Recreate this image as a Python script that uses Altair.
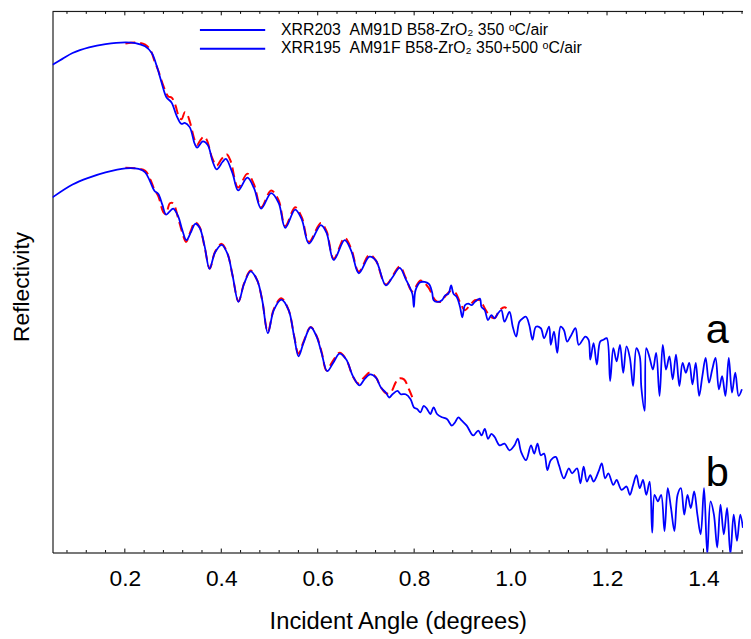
import altair as alt
import pandas as pd

# ---- measured curve a (XRR203) ----
a_x = [0.050, 0.0705, 0.0916, 0.1259, 0.160, 0.201, 0.2217, 0.242, 0.2558, 0.266, 0.2763, 0.2865,
       0.2968, 0.307, 0.3173, 0.3243, 0.3345, 0.3448, 0.350, 0.3618, 0.372, 0.3823, 0.3905, 0.4028,
       0.4096, 0.4234, 0.435, 0.4541, 0.4679, 0.4828, 0.5033, 0.5191, 0.5327, 0.5532, 0.5669, 0.5819,
       0.6065, 0.6182, 0.6332, 0.6558, 0.6695, 0.6853, 0.7071, 0.7208, 0.7413, 0.7551, 0.770, 0.7823,
       0.7961, 0.7994, 0.8028, 0.8131, 0.8301, 0.8371, 0.8404, 0.8474, 0.8576, 0.8644, 0.8712, 0.8767,
       0.8814, 0.8884, 0.8951, 0.8999, 0.9054, 0.9122, 0.9192, 0.9259, 0.9362, 0.9397, 0.9464, 0.9532,
       0.9602, 0.9669, 0.9737, 0.9807, 0.9874, 0.9977, 1.0045, 1.0115, 1.0182, 1.025, 1.032, 1.0387,
       1.0455, 1.0525, 1.0627, 1.0695, 1.0798, 1.0833, 1.090, 1.0968, 1.1038, 1.1105, 1.1173, 1.1243,
       1.1346, 1.1413, 1.155, 1.1618, 1.1653, 1.1721, 1.1789, 1.1859, 1.1926, 1.1994, 1.2064, 1.2131,
       1.2199, 1.2269, 1.2336, 1.2404, 1.2474, 1.2541, 1.2609, 1.2679, 1.2712, 1.2781, 1.2814, 1.2884,
       1.2951, 1.3019, 1.3089, 1.3156, 1.3224, 1.3294, 1.3362, 1.343, 1.350, 1.3567, 1.3635, 1.3705,
       1.3772, 1.384, 1.391, 1.3977, 1.4045, 1.4115, 1.4182, 1.425, 1.432, 1.4387, 1.4455, 1.4525,
       1.4592, 1.466, 1.473, 1.4797]
a_y = [4.93, 4.99, 5.05, 5.107, 5.14, 5.157, 5.15, 5.117, 5.05, 4.92, 4.75, 4.60,
       4.55, 4.42, 4.333, 4.343, 4.30, 4.133, 4.093, 4.157, 4.12, 3.95, 3.873, 3.95,
       3.98, 3.833, 3.66, 3.79, 3.683, 3.477, 3.633, 3.533, 3.283, 3.467, 3.367, 3.123,
       3.31, 3.233, 2.957, 3.157, 3.05, 2.823, 2.99, 2.95, 2.70, 2.783, 2.877, 2.767,
       2.617, 2.483, 2.65, 2.733, 2.717, 2.633, 2.55, 2.533, 2.55, 2.60, 2.617, 2.70,
       2.617, 2.583, 2.483, 2.377, 2.50, 2.517, 2.50, 2.533, 2.567, 2.483, 2.45, 2.35,
       2.40, 2.367, 2.417, 2.45, 2.333, 2.433, 2.283, 2.183, 2.333, 2.367, 2.383, 2.30,
       2.15, 2.283, 2.267, 2.167, 2.283, 2.10, 2.233, 2.017, 2.283, 2.25, 2.133, 2.183,
       2.267, 2.10, 2.183, 2.15, 1.95, 2.117, 1.90, 2.133, 2.15, 2.167, 1.733, 2.067,
       1.933, 2.10, 1.817, 2.083, 1.967, 1.683, 2.067, 1.983, 1.667, 1.433, 2.067, 1.967,
       1.85, 2.017, 1.583, 2.10, 1.85, 1.983, 1.75, 2.00, 1.683, 1.917, 1.817, 1.917,
       1.70, 1.917, 1.583, 1.783, 1.967, 1.717, 1.85, 1.967, 1.65, 1.783, 1.583, 1.967,
       1.617, 1.817, 1.583, 1.65]

# ---- fit to curve a ----
a_fit_x = [0.2012, 0.2217, 0.2422, 0.2531, 0.2613, 0.2695, 0.2798, 0.2901, 0.2968, 0.3044, 0.3126,
           0.3177, 0.3243, 0.329, 0.3351, 0.3448, 0.350, 0.3556, 0.3638, 0.370, 0.3803, 0.3905,
           0.4008, 0.411, 0.4192, 0.435, 0.4541, 0.4679, 0.4828, 0.5033, 0.5191, 0.5327, 0.5532,
           0.5669, 0.5819, 0.6065, 0.6182, 0.6332, 0.6558, 0.6695, 0.6853, 0.7071, 0.7208, 0.7413,
           0.770, 0.7823, 0.7961, 0.8131, 0.8295, 0.8438, 0.8541, 0.8644, 0.8746, 0.8849, 0.8951,
           0.9054, 0.9156, 0.9259, 0.9362, 0.9464, 0.9567, 0.9669, 0.9772, 0.9874, 0.9915]
a_fit_y = [5.145, 5.155, 5.135, 5.08, 4.97, 4.87, 4.72, 4.61, 4.60, 4.53, 4.40,
           4.38, 4.45, 4.43, 4.35, 4.17, 4.12, 4.16, 4.205, 4.17, 4.00, 3.91,
           3.98, 4.025, 3.96, 3.69, 3.83, 3.72, 3.49, 3.66, 3.56, 3.30, 3.49,
           3.39, 3.14, 3.33, 3.25, 2.97, 3.18, 3.07, 2.84, 3.01, 2.95, 2.71,
           2.89, 2.78, 2.64, 2.75, 2.68, 2.55, 2.533, 2.59, 2.64, 2.63, 2.53,
           2.45, 2.50, 2.55, 2.55, 2.47, 2.39, 2.37, 2.45, 2.48, 2.47]

# ---- measured curve b (XRR195) ----
b_x = [0.050, 0.0916, 0.1259, 0.160, 0.2012, 0.2285, 0.2422, 0.2525, 0.2613, 0.2695, 0.2777, 0.2853,
       0.2921, 0.3003, 0.3105, 0.3187, 0.3276, 0.3366, 0.346, 0.3551, 0.3653, 0.3756, 0.3871, 0.4008,
       0.4131, 0.4234, 0.4357, 0.4473, 0.4609, 0.4746, 0.4849, 0.4966, 0.5089, 0.5245, 0.5397, 0.5511,
       0.5602, 0.5704, 0.5854, 0.5977, 0.608, 0.6197, 0.632, 0.6455, 0.6592, 0.673, 0.6865, 0.6968,
       0.7091, 0.7208, 0.7311, 0.7413, 0.7481, 0.7551, 0.7653, 0.7722, 0.7823, 0.7926, 0.7994, 0.8063,
       0.8131, 0.8199, 0.8268, 0.8336, 0.8404, 0.8474, 0.8576, 0.8679, 0.8782, 0.885, 0.8918, 0.8988,
       0.909, 0.9226, 0.9329, 0.9398, 0.9465, 0.9533, 0.9603, 0.967, 0.9773, 0.9875, 0.9977, 1.008,
       1.0148, 1.0218, 1.032, 1.0423, 1.049, 1.0558, 1.0628, 1.0695, 1.0763, 1.0833, 1.0936, 1.1003,
       1.1105, 1.1208, 1.1276, 1.1378, 1.1448, 1.1515, 1.1583, 1.1653, 1.1721, 1.1823, 1.1891, 1.1961,
       1.2028, 1.2131, 1.2199, 1.2302, 1.2404, 1.2474, 1.2541, 1.2609, 1.2679, 1.2746, 1.2814, 1.2884,
       1.2937, 1.2986, 1.3054, 1.3122, 1.3192, 1.3259, 1.3327, 1.3397, 1.3464, 1.3532, 1.3602, 1.3669,
       1.3737, 1.3807, 1.3874, 1.3942, 1.4012, 1.4079, 1.4147, 1.4217, 1.4285, 1.4353, 1.4422, 1.449,
       1.4558, 1.4627, 1.4695, 1.4763, 1.4818]
b_y = [3.59, 3.72, 3.79, 3.843, 3.883, 3.877, 3.843, 3.75, 3.657, 3.623, 3.517, 3.417,
       3.443, 3.477, 3.40, 3.267, 3.157, 3.233, 3.323, 3.283, 3.10, 2.867, 3.033, 3.11,
       3.017, 2.80, 2.533, 2.717, 2.843, 2.75, 2.55, 2.217, 2.45, 2.557, 2.45, 2.183,
       1.983, 2.117, 2.277, 2.183, 2.017, 1.833, 1.917, 2.01, 1.95, 1.783, 1.69, 1.75,
       1.80, 1.767, 1.667, 1.617, 1.567, 1.60, 1.633, 1.60, 1.60, 1.55, 1.467, 1.45,
       1.417, 1.483, 1.45, 1.40, 1.467, 1.40, 1.367, 1.35, 1.283, 1.317, 1.367, 1.333,
       1.283, 1.183, 1.233, 1.183, 1.25, 1.15, 1.20, 1.167, 1.083, 1.10, 1.033, 1.083,
       1.15, 1.017, 0.933, 1.083, 1.00, 1.10, 0.983, 1.00, 0.833, 0.933, 0.967, 0.883,
       0.75, 0.85, 0.80, 0.85, 0.70, 0.867, 0.717, 0.783, 0.717, 0.817, 0.90, 0.75,
       0.80, 0.683, 0.733, 0.633, 0.667, 0.583, 0.683, 0.783, 0.65, 0.733, 0.583, 0.717,
       0.20, 0.583, 0.517, 0.583, 0.217, 0.65, 0.45, 0.217, 0.583, 0.65, 0.383, 0.583,
       0.45, 0.617, 0.383, 0.183, 0.65, -0.017, 0.517, 0.383, 0.05, 0.483, 0.183, 0.45,
       -0.017, 0.383, 0.117, 0.383, 0.25]

# ---- fit to curve b ----
b_fit_x = [0.2012, 0.2285, 0.2422, 0.2531, 0.2613, 0.2695, 0.2798, 0.2849, 0.2935, 0.3003, 0.3105,
           0.3187, 0.327, 0.3366, 0.3454, 0.3551, 0.3653, 0.3762, 0.3871, 0.4008, 0.4131, 0.4234,
           0.4357, 0.4473, 0.4609, 0.4746, 0.4849, 0.4966, 0.5089, 0.5245, 0.5397, 0.5511, 0.5602,
           0.5704, 0.5854, 0.5977, 0.608, 0.6182, 0.6305, 0.6455, 0.6592, 0.673, 0.6838, 0.6961,
           0.7085, 0.7208, 0.7311, 0.7413, 0.7516, 0.7618, 0.7686, 0.7789, 0.7892, 0.7961]
b_fit_y = [3.89, 3.88, 3.86, 3.77, 3.67, 3.60, 3.44, 3.42, 3.53, 3.53, 3.38,
           3.24, 3.14, 3.25, 3.34, 3.29, 3.09, 2.87, 3.04, 3.12, 3.02, 2.80,
           2.54, 2.72, 2.85, 2.75, 2.55, 2.23, 2.46, 2.57, 2.45, 2.19, 2.01,
           2.13, 2.28, 2.19, 2.03, 1.84, 1.93, 2.02, 1.95, 1.78, 1.71, 1.77,
           1.82, 1.77, 1.67, 1.61, 1.62, 1.72, 1.76, 1.75, 1.65, 1.57]

legend_labels = ["XRR203\u00a0\u00a0AM91D B58-ZrO\u2082 350 \u1d52C/air",
                 "XRR195\u00a0\u00a0AM91F B58-ZrO\u2082 350+500 \u1d52C/air"]
curve_tags = ["a", "b"]
major_ticks = [0.2, 0.4, 0.6, 0.8, 1.0, 1.2, 1.4]
minor_ticks = [0.08, 0.12, 0.16, 0.24, 0.28, 0.32, 0.36, 0.44, 0.48, 0.52, 0.56,
               0.64, 0.68, 0.72, 0.76, 0.84, 0.88, 0.92, 0.96, 1.04, 1.08, 1.12, 1.16,
               1.24, 1.28, 1.32, 1.36, 1.44, 1.48]

W, H = 698, 547
FONT = "Liberation Sans"
BLUE = "#0000ff"
RED = "#ff0000"

xs = alt.Scale(domain=[0.05, 1.482], nice=False, zero=False)
ys = alt.Scale(domain=[0, 5.47], nice=False, zero=False)

meas = pd.concat([
    pd.DataFrame({"x": a_x, "y": a_y, "curve": "a"}),
    pd.DataFrame({"x": b_x, "y": b_y, "curve": "b"}),
])
fit = pd.concat([
    pd.DataFrame({"x": a_fit_x, "y": a_fit_y, "curve": "a"}),
    pd.DataFrame({"x": b_fit_x, "y": b_fit_y, "curve": "b"}),
])

x_axis = alt.Axis(values=major_ticks, format=".1f", labelFont=FONT, labelFontSize=23,
                  labelColor="black", ticks=False, domain=True, domainColor="black",
                  domainWidth=1, grid=False, title="Incident Angle (degrees)",
                  titleFont=FONT, titleFontSize=24, titleFontWeight="normal",
                  titleColor="black", labelPadding=15, titlePadding=20)
y_axis = alt.Axis(labels=False, ticks=False, domain=True, domainColor="black",
                  domainWidth=1, grid=False, title="Reflectivity", titleFont=FONT,
                  titleFontSize=23, titleFontWeight="normal", titleColor="black",
                  titleAngle=270, titleX=-31, titleY=278, titleAlign="center",
                  titleBaseline="middle")

fit_layer = alt.Chart(fit).mark_line(
    color=RED, strokeWidth=2, strokeDash=[10, 5], clip=True, interpolate="catmull-rom"
).encode(
    x=alt.X("x:Q", scale=xs, axis=x_axis),
    y=alt.Y("y:Q", scale=ys, axis=y_axis),
    detail="curve:N",
)

meas_layer = alt.Chart(meas).mark_line(
    color=BLUE, strokeWidth=1.8, clip=True, interpolate="catmull-rom"
).encode(
    x=alt.X("x:Q", scale=xs),
    y=alt.Y("y:Q", scale=ys),
    detail="curve:N",
)

top_border = alt.Chart(pd.DataFrame({"k": [0]})).mark_rule(color="black", strokeWidth=1).encode(
    x=alt.value(0), x2=alt.value(W), y=alt.value(0)
)

tick_layers = []
for vals, ln in ((major_ticks, 4), (minor_ticks, 2.5)):
    tdf = pd.DataFrame({"x": vals})
    tick_layers.append(alt.Chart(tdf).mark_rule(color="black", strokeWidth=1).encode(
        x=alt.X("x:Q", scale=xs), y=alt.value(H), y2=alt.value(H - ln)))
    tick_layers.append(alt.Chart(tdf).mark_rule(color="black", strokeWidth=1).encode(
        x=alt.X("x:Q", scale=xs), y=alt.value(0), y2=alt.value(ln)))

legend_layers = []
for i, lab in enumerate(legend_labels):
    legend_layers.append(alt.Chart(pd.DataFrame({"k": [0]})).mark_rule(
        color=BLUE, strokeWidth=2).encode(
        x=alt.value(149), x2=alt.value(215), y=alt.value(18.7 + 19 * i)))
    legend_layers.append(alt.Chart(pd.DataFrame({"t": [lab]})).mark_text(
        align="left", baseline="alphabetic", font=FONT, fontSize=16, color="black").encode(
        text="t:N", x=alt.value(231), y=alt.value(24 + 18.5 * i)))

tag_layers = []
for tag, yy in zip(curve_tags, (335, 480)):
    tag_layers.append(alt.Chart(pd.DataFrame({"t": [tag]})).mark_text(
        align="center", baseline="alphabetic", font=FONT, fontSize=42, color="black").encode(
        text="t:N", x=alt.value(672), y=alt.value(yy)))

chart = alt.layer(
    fit_layer, meas_layer, top_border, *tick_layers, *legend_layers, *tag_layers
).properties(
    width=W, height=H,
    autosize=alt.AutoSizeParams(type="none"),
    padding={"left": 45, "top": 0, "right": 0, "bottom": 84},
).configure_view(stroke=None).configure(background="white")

chart.save("out.html", embed_options={"renderer": "svg", "actions": False})
